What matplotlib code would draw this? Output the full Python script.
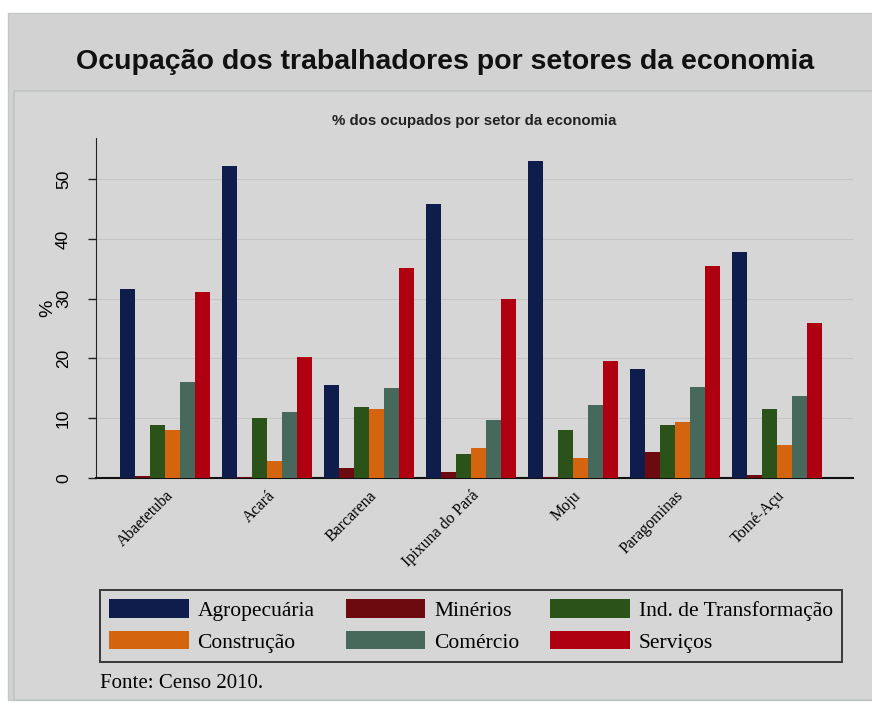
import matplotlib
matplotlib.use("Agg")
import matplotlib.pyplot as plt
import numpy as np
from matplotlib.patches import Rectangle

CITIES = ["Abaetetuba", "Acará", "Barcarena", "Ipixuna do Pará", "Moju",
          "Paragominas", "Tomé-Açu"]
SECTORS = ["Agropecuária", "Minérios", "Ind. de Transformação",
           "Construção", "Comércio", "Serviços"]
# % of employed people per sector, one list per sector (city order above)
AGRO = [31.7, 52.2, 15.6, 45.8, 53.1, 18.3, 37.8]
MINERIOS = [0.3, 0.2, 1.6, 1.0, 0.2, 4.3, 0.5]
INDUSTRIA = [8.9, 10.1, 11.9, 4.0, 8.0, 8.9, 11.5]
CONSTRUCAO = [8.0, 2.9, 11.6, 5.0, 3.4, 9.3, 5.5]
COMERCIO = [16.1, 11.1, 15.0, 9.7, 12.3, 15.3, 13.8]
SERVICOS = [31.2, 20.3, 35.1, 29.9, 19.6, 35.5, 26.0]
VALUES = [AGRO, MINERIOS, INDUSTRIA, CONSTRUCAO, COMERCIO, SERVICOS]
COLORS = ["#0e1d4c", "#6c0a10", "#2b5219", "#d5640f", "#46695c", "#ae0010"]

fig = plt.figure(figsize=(8.72, 7.11), dpi=100)
fig.patch.set_facecolor("white")

# outer gray panel, title band and inner plot region
fig.add_artist(Rectangle((8 / 872, 0.015), 1, 1 - 13 / 711 - 0.015,
                         transform=fig.transFigure, facecolor="#d2d2d2",
                         edgecolor="#c4c8c8", lw=1.0, zorder=0))
fig.add_artist(Rectangle((14 / 872, 0.015), 1, 1 - 91 / 711 - 0.015,
                         transform=fig.transFigure, facecolor="#d6d6d6",
                         edgecolor="#c0c4c4", lw=1.2, zorder=0))

fig.text(445 / 872, 1 - 62 / 711, "Ocupação dos trabalhadores por setores da economia",
         ha="center", va="center", fontsize=20.5, fontweight="bold",
         family="Liberation Sans", color="#111111")

ax = fig.add_axes([96 / 872, 1 - 478 / 711, (853 - 96) / 872, (478 - 138) / 711])
ax.set_facecolor("none")

x = np.arange(len(CITIES))
w = 0.147
bars = []
for i, (vals, col, lab) in enumerate(zip(VALUES, COLORS, SECTORS)):
    bars.append(ax.bar(x + (i - 2.5) * w, vals, w, color=col, label=lab, zorder=3))

ax.set_ylim(0, 56.9)
ax.set_xlim(-0.676, 6.745)
ax.set_yticks([0, 10, 20, 30, 40, 50])
ax.set_yticklabels(["0", "10", "20", "30", "40", "50"], rotation=90,
                   va="center", fontsize=12.5, family="Liberation Sans")
ax.set_xticks(x)
ax.set_xticklabels(CITIES, rotation=45, ha="right", va="top",
                   rotation_mode="anchor", fontsize=11.5, family="Liberation Serif")
ax.tick_params(axis="x", length=0, pad=7)
ax.tick_params(axis="y", length=6, width=1.0, color="#222222", pad=12)
ax.set_ylabel("%", fontsize=14, family="Liberation Sans", labelpad=0)
ax.grid(axis="y", color="#c6c6c6", lw=0.8, zorder=0)
for s in ("top", "right"):
    ax.spines[s].set_visible(False)
ax.spines["left"].set_color("#222222")
ax.spines["bottom"].set_color("#111111")
ax.spines["bottom"].set_linewidth(1.5)
ax.set_title("% dos ocupados por setor da economia", fontsize=10.8,
             fontweight="bold", family="Liberation Sans", pad=9, color="#222222")

# legend fills row by row like the reference: reorder for column-major layout
order = [0, 3, 1, 4, 2, 5]
leg = fig.legend([bars[k] for k in order], [SECTORS[k] for k in order],
                 loc="center", bbox_to_anchor=(471 / 872, 1 - 626 / 711),
                 ncol=3, frameon=True, fancybox=False, edgecolor="#111111",
                 facecolor="#d6d6d6", handlelength=3.7, handleheight=0.95,
                 handletextpad=0.4, columnspacing=1.45, borderaxespad=0,
                 borderpad=0.45, labelspacing=0.45,
                 prop={"family": "Liberation Serif", "size": 15.5})
leg.get_frame().set_linewidth(1.4)

fig.text(100 / 872, 1 - 683 / 711, "Fonte: Censo 2010.", ha="left", va="center",
         fontsize=15, family="Liberation Serif")

fig.savefig("out.png", dpi=100)
